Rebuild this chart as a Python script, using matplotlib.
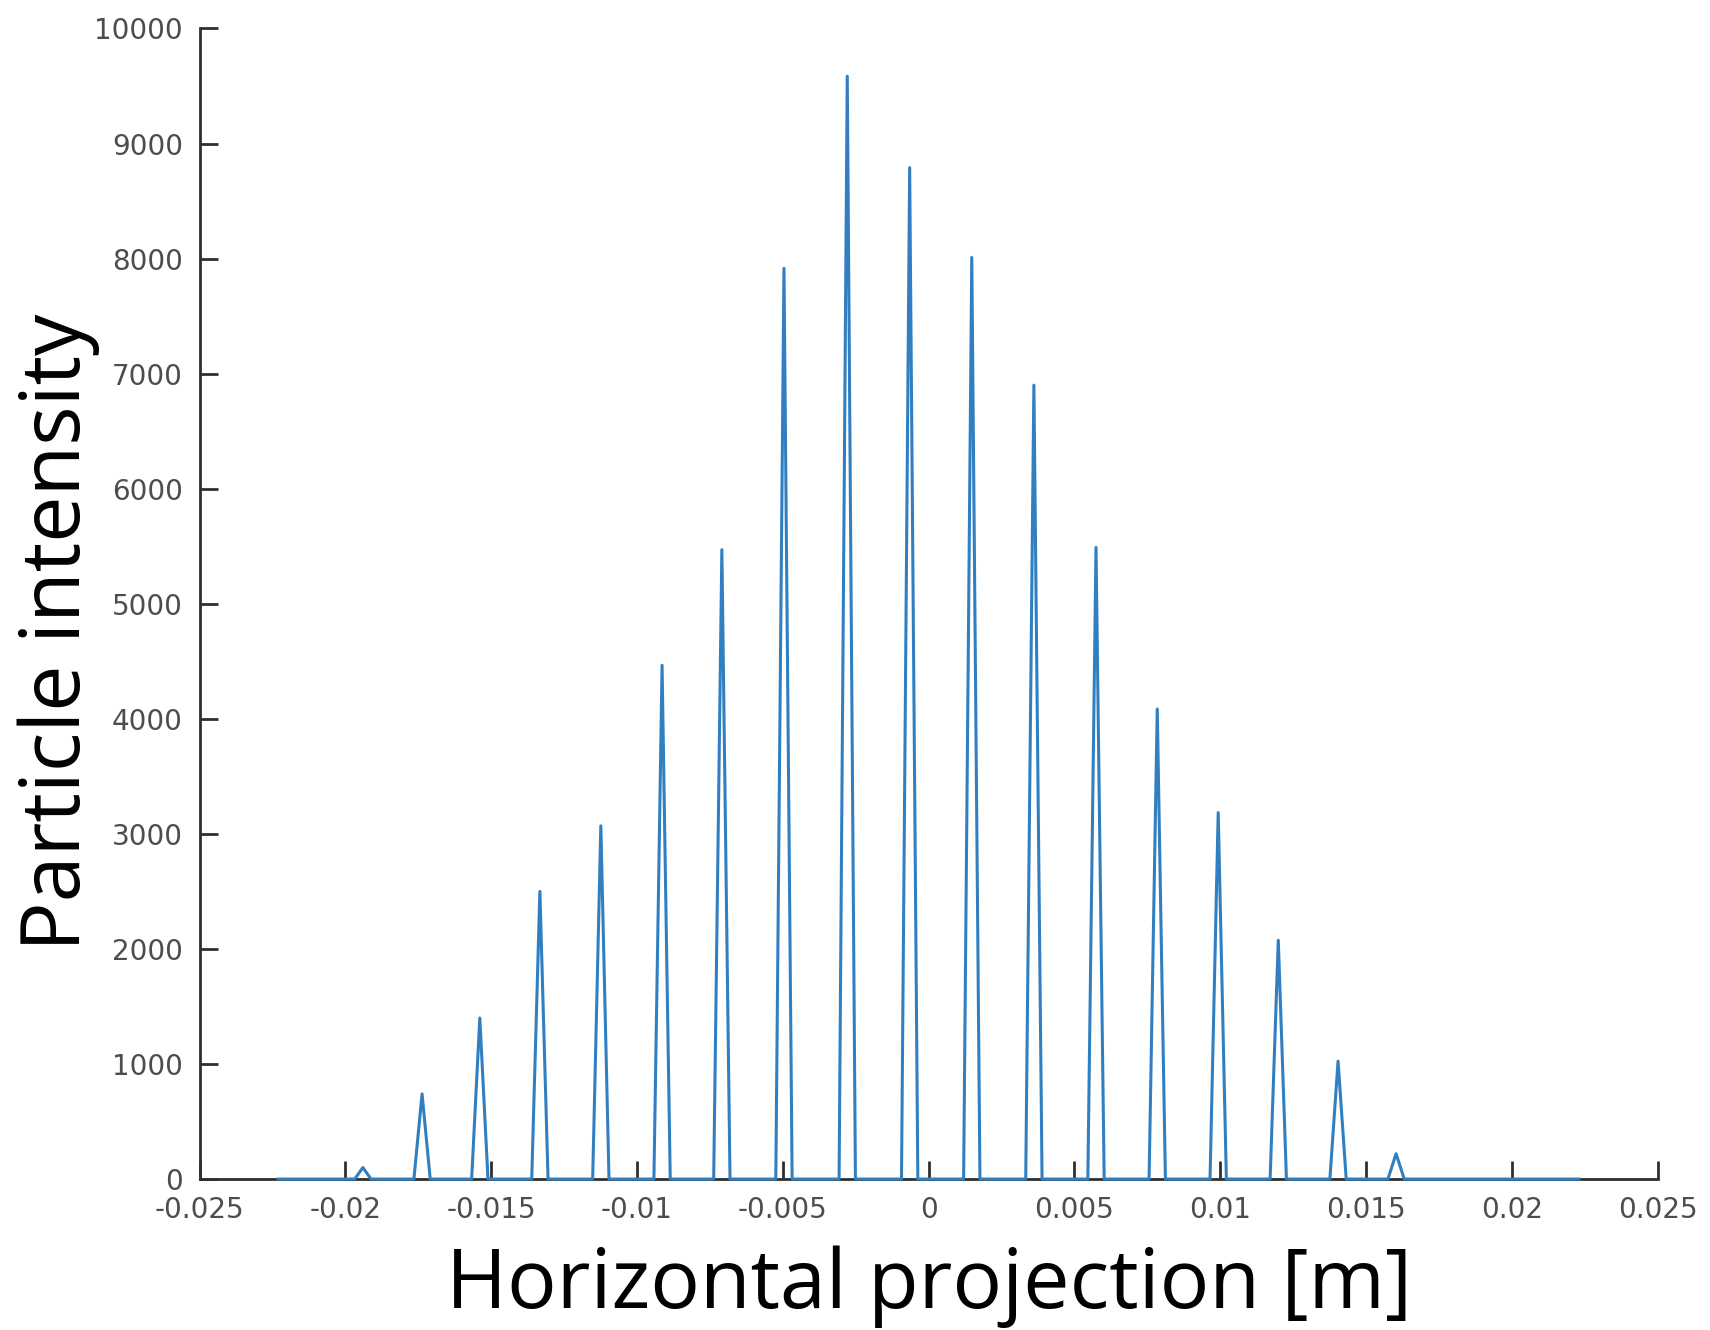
import numpy as np
import matplotlib
matplotlib.use('Agg')
import matplotlib.pyplot as plt

plt.rcParams['axes.unicode_minus'] = False

# peak centres [m] and heights
peak_x = [-0.0194, -0.01737, -0.01539, -0.01333, -0.01124, -0.00914, -0.00709,
          -0.00496, -0.00279, -0.00065, 0.00148, 0.00361, 0.00574, 0.00784,
          0.00993, 0.01199, 0.01404, 0.01603]
peak_h = [100, 740, 1400, 2500, 3070, 4465, 5470, 7915, 9585, 8790, 8010,
          6900, 5490, 4085, 3185, 2075, 1025, 220]
x_start, x_end = -0.0223, 0.0223
half_width = 0.00028

xticks = [-0.025, -0.02, -0.015, -0.01, -0.005, 0, 0.005, 0.01, 0.015, 0.02, 0.025]
xtick_labels = ['-0.025', '-0.02', '-0.015', '-0.01', '-0.005', '0',
                '0.005', '0.01', '0.015', '0.02', '0.025']
yticks = list(range(0, 10001, 1000))

# line through the peaks
xs = [x_start]
ys = [0]
for c, h in zip(peak_x, peak_h):
    xs += [c - half_width, c, c + half_width]
    ys += [0, h, 0]
xs.append(x_end)
ys.append(0)

fig = plt.figure(figsize=(17.1, 13.3), dpi=100)
ax = fig.add_axes([0.1167, 0.1135, 0.8527, 0.8651])

ax.plot(xs, ys, color='#2f7fc1', lw=2.2, clip_on=False, zorder=3)

ax.set_xlim(-0.025, 0.025)
ax.set_ylim(0, 10000)
ax.set_xticks(xticks)
ax.set_xticklabels(xtick_labels)
ax.set_yticks(yticks)

for s in ['top', 'right']:
    ax.spines[s].set_visible(False)
for s in ['left', 'bottom']:
    ax.spines[s].set_color('#303030')
    ax.spines[s].set_linewidth(2)

ax.tick_params(direction='in', length=13, width=2, color='#303030',
               labelsize=20, labelcolor='#4d4d4d', pad=12)
for lab in ax.get_xticklabels() + ax.get_yticklabels():
    lab.set_fontfamily('DejaVu Sans')

ax.set_xlabel('Horizontal projection [m]', fontsize=59.5, fontfamily='Open Sans')
ax.set_ylabel('Particle intensity', fontsize=59.5, fontfamily='Open Sans')
ax.xaxis.set_label_coords(0.5, -0.058)
ax.yaxis.set_label_coords(-0.0683, 0.475)

fig.savefig('out.png', dpi=100)
